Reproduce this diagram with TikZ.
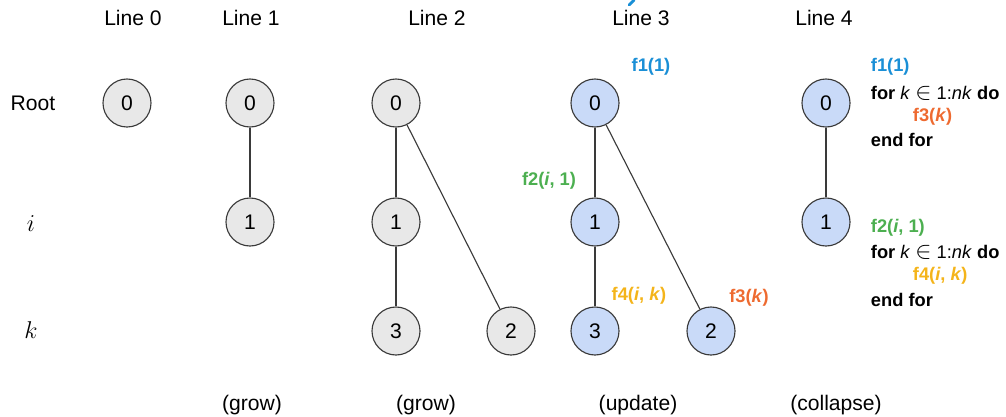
\documentclass[tikz,border=0pt]{standalone}
\usepackage{fontspec}
\setmainfont{Liberation Sans}
\usetikzlibrary{positioning}

\definecolor{nodegray}{HTML}{E8E8E8}
\definecolor{nodeblue}{HTML}{C9DAF8}
\definecolor{edgegray}{HTML}{3A3A3A}
\definecolor{fone}{HTML}{1A8FD6}
\definecolor{ftwo}{HTML}{4CAF50}
\definecolor{fthree}{HTML}{EE6A30}
\definecolor{ffour}{HTML}{F4B41A}

\newcommand{\member}{{\fontsize{17}{17}\selectfont$\in$}}

\begin{document}
\begin{tikzpicture}[
        x = 0.025cm, y = -0.025cm, % one unit per pixel, y going down
        edge/.style = {draw = edgegray, thick},
        heading/.style = {font = \fontsize{15}{18}\selectfont},
        step label/.style = {font = \fontsize{15}{18}\selectfont},
        row var/.style = {font = \fontsize{19}{22}\selectfont},
        code/.style = {anchor = west, font = \fontsize{13}{16}\selectfont\bfseries},
        call/.style = {font = \fontsize{13}{16}\selectfont\bfseries}
        ]

    \tikzset{
        tree/.style = {
            circle,
            draw = edgegray,
            thick,
            minimum size = 1.2cm,
            inner sep = 0pt,
            font = \fontsize{15}{18}\selectfont
        },
        old/.style = {tree, fill = nodegray},
        new/.style = {tree, fill = nodeblue}
    }

    \useasboundingbox (0,0) rectangle (1006,416);

    % column headings
    \node[heading] (h0) at (133,18) {Line 0};
    \node[heading] (h1) at (251,18) {Line 1};
    \node[heading] (h2) at (437,18) {Line 2};
    \node[heading] (h3) at (641,18) {Line 3};
    \node[heading] (h4) at (824,18) {Line 4};
    \draw[fone, line width = 2pt, line cap = round] (629,5) -- (634,0);

    % row labels
    \node[heading] (root) at (33,103) {Root};
    \node[row var] (ri) at (31,224) {$i$};
    \node[row var] (rk) at (31,330) {$k$};

    % line 0
    \node[old] (a0) at (127,103) {0};

    % line 1
    \node[old] (b0) at (250,103) {0};
    \node[old] (b1) at (250,222) {1};
    \path[edge] (b0) -- (b1);

    % line 2
    \node[old] (c0) at (396,103) {0};
    \node[old] (c1) at (396,222) {1};
    \node[old] (c3) at (396,331) {3};
    \node[old] (c2) at (511,331) {2};
    \path[edge] (c0) -- (c1);
    \path[edge] (c1) -- (c3);
    \path[edge] (c0) -- (c2);

    % line 3
    \node[new] (d0) at (595,103) {0};
    \node[new] (d1) at (595,222) {1};
    \node[new] (d3) at (595,331) {3};
    \node[new] (d2) at (711,331) {2};
    \path[edge] (d0) -- (d1);
    \path[edge] (d1) -- (d3);
    \path[edge] (d0) -- (d2);

    \node[call, text = fone] (f1) at (651,67) {f1(1)};
    \node[call, text = ftwo] (f2) at (549,181) {f2(\textit{i}, 1)};
    \node[call, text = ffour] (f4) at (639,296) {f4(\textit{i}, \textit{k})};
    \node[call, text = fthree] (f3) at (749,298) {f3(\textit{k})};

    % line 4
    \node[new] (e0) at (826,103) {0};
    \node[new] (e1) at (826,222) {1};
    \path[edge] (e0) -- (e1);

    % collapsed loops
    \node[code, text = fone] (p1) at (866,67) {f1(1)};
    \node[code] (p2) at (866,93) {for \mdseries\textit{k} \member{} 1:\textit{nk} \bfseries do};
    \node[code, text = fthree] (p3) at (908,117) {f3(\textit{k})};
    \node[code] (p4) at (866,140) {end for};

    \node[code, text = ftwo] (q1) at (866,228) {f2(\textit{i}, 1)};
    \node[code] (q2) at (866,252) {for \mdseries\textit{k} \member{} 1:\textit{nk} \bfseries do};
    \node[code, text = ffour] (q3) at (908,276) {f4(\textit{i}, \textit{k})};
    \node[code] (q4) at (866,300) {end for};

    % step names
    \node[step label] (s1) at (252,405) {(grow)};
    \node[step label] (s2) at (426,405) {(grow)};
    \node[step label] (s3) at (638,405) {(update)};
    \node[step label] (s4) at (836,405) {(collapse)};

\end{tikzpicture}
\end{document}
